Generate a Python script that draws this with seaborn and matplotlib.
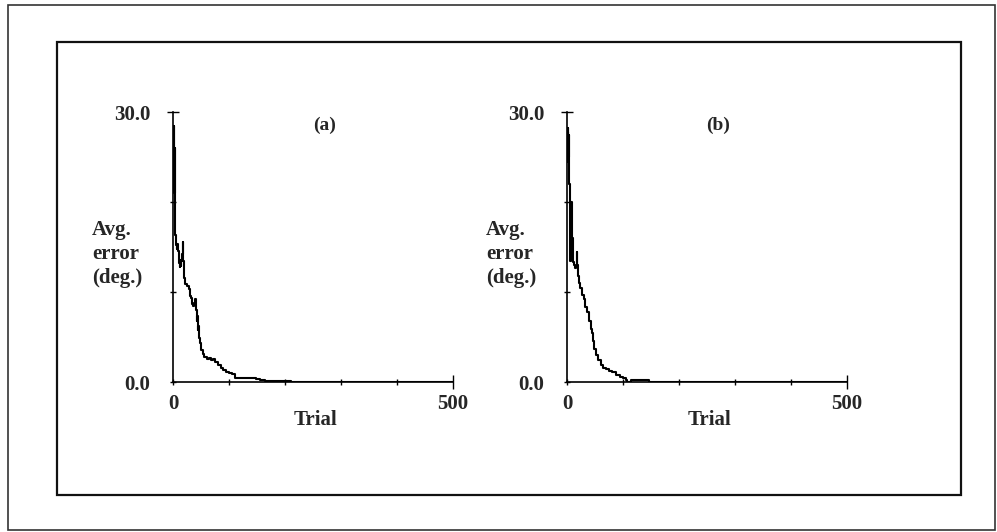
import matplotlib
matplotlib.use("Agg")
import matplotlib.pyplot as plt
from matplotlib.patches import Rectangle
import seaborn as sns
import pandas as pd

# ---- data ----
trial_a = [0, 0.5, 1, 1.5, 2, 2.5, 3, 3.5, 4, 5, 6, 7, 8, 9, 10, 11, 12, 13, 14, 15,
           16, 17, 18, 19, 20, 22, 25, 28, 30, 32, 34, 36, 38, 40, 41, 42, 43, 44, 45,
           46, 48, 50, 53, 56, 60, 64, 68, 72, 75, 80, 85, 90, 95, 100, 105, 110, 120,
           130, 140, 148, 155, 165, 180, 195, 210, 500]
error_a = [27.5, 22.0, 28.5, 24.0, 27.0, 21.0, 26.0, 20.5, 16.3, 15.5, 15.2, 14.8, 15.3,
           14.6, 14.0, 13.2, 12.8, 13.6, 12.9, 13.5, 14.2, 15.6, 13.5, 12.5, 11.6, 10.9,
           10.7, 10.3, 9.6, 9.3, 8.7, 8.5, 8.8, 9.2, 8.0, 6.8, 7.3, 5.8, 6.2, 4.9, 4.3,
           3.6, 3.1, 2.8, 2.6, 2.7, 2.4, 2.6, 2.2, 1.9, 1.6, 1.3, 1.1, 1.05, 0.9, 0.5,
           0.45, 0.4, 0.45, 0.3, 0.2, 0.15, 0.12, 0.08, 0.03, 0.0]

trial_b = [0, 0.5, 1, 1.5, 2, 2.5, 3, 3.5, 4, 4.5, 5, 6, 7, 8, 9, 10, 12, 14, 16, 17,
           18, 20, 22, 24, 27, 30, 33, 36, 39, 42, 45, 47, 48, 52, 56, 60, 65, 70, 75,
           80, 88, 95, 100, 105, 108, 115, 140, 146, 500]
error_b = [28.0, 25.0, 28.2, 24.5, 27.8, 25.0, 27.5, 24.2, 22.0, 20.0, 16.0, 13.5, 19.8,
           20.0, 16.0, 13.3, 13.0, 12.7, 12.9, 14.5, 13.0, 11.8, 11.0, 10.4, 9.7, 9.2,
           8.3, 7.8, 6.8, 5.9, 5.4, 4.6, 3.7, 3.0, 2.4, 1.9, 1.6, 1.4, 1.2, 1.1, 0.8,
           0.6, 0.45, 0.2, 0.0, 0.2, 0.2, 0.05, 0.0]

x_ticks = [0, 100, 200, 300, 400, 500]
x_ticklabels = ["0", "", "", "", "", "500"]
y_ticks = [0, 10, 20, 30]
y_ticklabels = ["0.0", "", "", "30.0"]
panel_titles = ["(a)", "(b)"]
x_label = "Trial"
y_label = "Avg.\nerror\n(deg.)"

sns.set_theme(style="white")
plt.rcParams["font.family"] = ["Liberation Serif", "DejaVu Serif"]
plt.rcParams["font.weight"] = "bold"

W, H = 997, 532
fig = plt.figure(figsize=(W / 100, H / 100), dpi=100)
fig.patch.set_facecolor("white")

def fx(px):
    return px / W

def fy(py):
    return 1 - py / H

# frames
fig.patches.append(Rectangle((fx(8), fy(530)), fx(995) - fx(8), fy(5) - fy(530),
                             transform=fig.transFigure, fill=False, ec="#333333", lw=1.2))
fig.patches.append(Rectangle((fx(57), fy(495)), fx(961) - fx(57), fy(42) - fy(495),
                             transform=fig.transFigure, fill=False, ec="#111111", lw=1.6))

FS = 15
panels = [(173, trial_a, error_a), (567, trial_b, error_b)]
for i, (left_px, tx, ey) in enumerate(panels):
    ax = fig.add_axes([fx(left_px), fy(382), 280 / W, 270 / H])
    ax.set_facecolor("none")
    df = pd.DataFrame({"trial": tx, "err": ey})
    sns.lineplot(data=df, x="trial", y="err", ax=ax, color="black", lw=1.5,
                 drawstyle="steps-post", estimator=None, sort=False)
    ax.set_xlim(0, 500)
    ax.set_ylim(0, 30)
    for s in ["top", "right"]:
        ax.spines[s].set_visible(False)
    for s in ["left", "bottom"]:
        ax.spines[s].set_color("black")
        ax.spines[s].set_linewidth(1.2)
    ax.set_xticks(x_ticks)
    ax.set_xticklabels(x_ticklabels, fontsize=FS, fontweight="bold")
    ax.set_yticks(y_ticks)
    ax.set_yticklabels(y_ticklabels, fontsize=FS, fontweight="bold")
    ax.tick_params(axis="both", direction="inout", length=5, width=1.0, color="black",
                   left=True, bottom=True)
    ax.tick_params(axis="x", pad=6)
    ax.tick_params(axis="y", pad=14)
    # larger end ticks
    ax.xaxis.get_major_ticks()[-1].tick1line.set_markersize(10)
    ax.yaxis.get_major_ticks()[-1].tick1line.set_markersize(9)
    ax.set_xlabel(x_label, fontsize=FS, fontweight="bold")
    ax.xaxis.set_label_coords(0.51, -0.105)
    ax.set_ylabel(y_label, fontsize=FS, fontweight="bold", rotation=0,
                  ha="left", va="center", linespacing=1.25)
    ax.yaxis.set_label_coords(-0.29, 0.474)
    ax.text(0.54, 0.952, panel_titles[i], transform=ax.transAxes, fontsize=14,
            fontweight="bold", ha="center", va="center")

fig.savefig("out.png", dpi=100, facecolor="white")
